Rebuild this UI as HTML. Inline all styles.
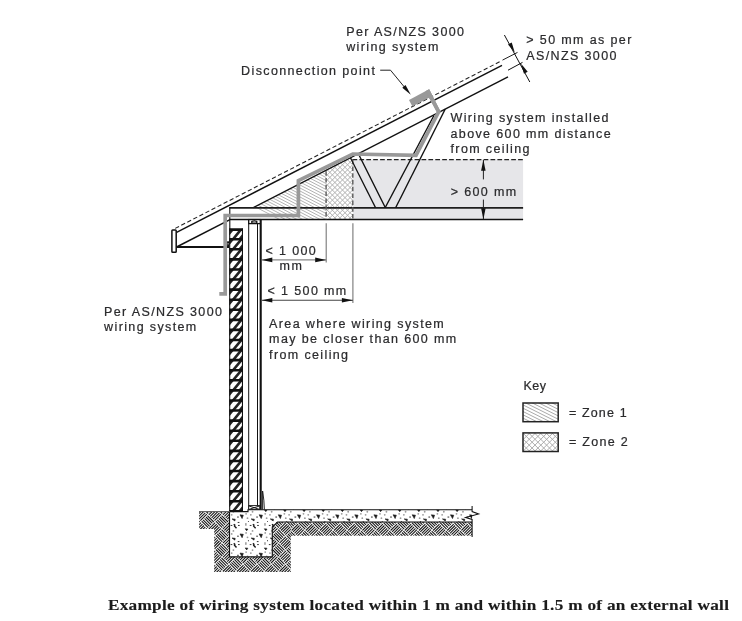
<!DOCTYPE html>
<html><head><meta charset="utf-8"><title>Wiring system near external wall</title>
<style>
html,body{margin:0;padding:0;background:#fff;}
body{width:742px;height:621px;overflow:hidden;font-family:"Liberation Sans",sans-serif;}
svg{display:block;will-change:transform;}
.t{font-family:"Liberation Sans",sans-serif;font-size:12.5px;letter-spacing:1.37px;fill:#2b2b2d;stroke:#2b2b2d;stroke-width:0.22px;white-space:pre;}
.cap{font-family:"Liberation Serif",serif;font-weight:bold;font-size:15px;fill:#1c1c1c;stroke:#1c1c1c;stroke-width:0.12px;white-space:pre;}
.k{stroke:#111;fill:none;}
</style></head><body>
<svg width="742" height="621" viewBox="0 0 742 621">
<defs>
<g id="ct"><path d="M10.3 2.0L13.6 2.4L12.4 5.8Z" fill="#1a1a1a" stroke="#1a1a1a" stroke-width="0.6"/><path d="M2.3 6.1L5.5 6.4L5.2 8.2Z" fill="#1a1a1a" stroke="#1a1a1a" stroke-width="0.6"/><path d="M15.5 16.0L18.2 16.3L17.0 18.0Z" fill="#1a1a1a" stroke="#1a1a1a" stroke-width="0.6"/><path d="M4.0 11.5L5.1 12.3L4.8 13.3L6.8 15.5" stroke="#1a1a1a" stroke-width="1.4" fill="none"/><rect x="15.4" y="10.3" width="1.5" height="2.6" fill="#999"/><rect x="7.3999999999999995" y="3.75" width="1.7" height="1.0" fill="#333"/><rect x="8.0" y="9.15" width="1.7" height="1.0" fill="#333"/><rect x="0.8999999999999999" y="12.15" width="1.7" height="1.0" fill="#333"/><rect x="8.299999999999999" y="12.15" width="1.7" height="1.0" fill="#333"/><circle cx="18.7" cy="8.7" r="0.55" fill="#333"/><circle cx="2.0" cy="2.0" r="0.9" fill="#9a9a9a"/><circle cx="16.4" cy="1.0" r="0.9" fill="#9a9a9a"/><circle cx="17.8" cy="5.4" r="0.9" fill="#9a9a9a"/><circle cx="3.7" cy="18.1" r="0.9" fill="#9a9a9a"/></g>
<clipPath id="concclip"><path d="M229.5 511.6H248V509.7H472.1V522H277.6L272.3 526.9V556.9H229.5Z"/></clipPath>
</defs>
<rect width="742" height="621" fill="#fff"/>
<rect x="352.8" y="159.5" width="170.3" height="59.8" fill="#e6e6e9"/>
<clipPath id="z1c"><polygon points="253.3,207.6 326.1,170.2 326.1,219.3 276,219.3"/></clipPath>
<clipPath id="z2c"><polygon points="326.1,170.2 352.8,156.5 352.8,219.3 326.1,219.3"/></clipPath>
<path clip-path="url(#z1c)" d="M250.0 123.11L327.0 163.00M250.0 126.11L327.0 166.00M250.0 129.11L327.0 169.00M250.0 132.11L327.0 172.00M250.0 135.11L327.0 175.00M250.0 138.11L327.0 178.00M250.0 141.11L327.0 181.00M250.0 144.11L327.0 184.00M250.0 147.11L327.0 187.00M250.0 150.11L327.0 190.00M250.0 153.11L327.0 193.00M250.0 156.11L327.0 196.00M250.0 159.11L327.0 199.00M250.0 162.11L327.0 202.00M250.0 165.11L327.0 205.00M250.0 168.11L327.0 208.00M250.0 171.11L327.0 211.00M250.0 174.11L327.0 214.00M250.0 177.11L327.0 217.00M250.0 180.11L327.0 220.00M250.0 183.11L327.0 223.00M250.0 186.11L327.0 226.00M250.0 189.11L327.0 229.00M250.0 192.11L327.0 232.00M250.0 195.11L327.0 235.00M250.0 198.11L327.0 238.00M250.0 201.11L327.0 241.00M250.0 204.11L327.0 244.00M250.0 207.11L327.0 247.00M250.0 210.11L327.0 250.00M250.0 213.11L327.0 253.00M250.0 216.11L327.0 256.00M250.0 219.11L327.0 259.00M250.0 222.11L327.0 262.00" stroke="#a9a9a9" stroke-width="0.9" fill="none"/>
<path clip-path="url(#z2c)" d="M256.95 155.0L321.95 220.0M256.95 220.0L321.95 155.0M262.00 155.0L327.00 220.0M262.00 220.0L327.00 155.0M267.05 155.0L332.05 220.0M267.05 220.0L332.05 155.0M272.10 155.0L337.10 220.0M272.10 220.0L337.10 155.0M277.15 155.0L342.15 220.0M277.15 220.0L342.15 155.0M282.20 155.0L347.20 220.0M282.20 220.0L347.20 155.0M287.25 155.0L352.25 220.0M287.25 220.0L352.25 155.0M292.30 155.0L357.30 220.0M292.30 220.0L357.30 155.0M297.35 155.0L362.35 220.0M297.35 220.0L362.35 155.0M302.40 155.0L367.40 220.0M302.40 220.0L367.40 155.0M307.45 155.0L372.45 220.0M307.45 220.0L372.45 155.0M312.50 155.0L377.50 220.0M312.50 220.0L377.50 155.0M317.55 155.0L382.55 220.0M317.55 220.0L382.55 155.0M322.60 155.0L387.60 220.0M322.60 220.0L387.60 155.0M327.65 155.0L392.65 220.0M327.65 220.0L392.65 155.0M332.70 155.0L397.70 220.0M332.70 220.0L397.70 155.0M337.75 155.0L402.75 220.0M337.75 220.0L402.75 155.0M342.80 155.0L407.80 220.0M342.80 220.0L407.80 155.0M347.85 155.0L412.85 220.0M347.85 220.0L412.85 155.0M352.90 155.0L417.90 220.0M352.90 220.0L417.90 155.0M357.95 155.0L422.95 220.0M357.95 220.0L422.95 155.0M363.00 155.0L428.00 220.0M363.00 220.0L428.00 155.0M368.05 155.0L433.05 220.0M368.05 220.0L433.05 155.0M373.10 155.0L438.10 220.0M373.10 220.0L438.10 155.0M378.15 155.0L443.15 220.0M378.15 220.0L443.15 155.0M383.20 155.0L448.20 220.0M383.20 220.0L448.20 155.0M388.25 155.0L453.25 220.0M388.25 220.0L453.25 155.0M393.30 155.0L458.30 220.0M393.30 220.0L458.30 155.0M398.35 155.0L463.35 220.0M398.35 220.0L463.35 155.0M403.40 155.0L468.40 220.0M403.40 220.0L468.40 155.0M408.45 155.0L473.45 220.0M408.45 220.0L473.45 155.0M413.50 155.0L478.50 220.0M413.50 220.0L478.50 155.0M418.55 155.0L483.55 220.0M418.55 220.0L483.55 155.0" stroke="#adadad" stroke-width="0.95" fill="none"/>
<line x1="175.2" y1="228.4" x2="500" y2="61.6" stroke="#222" stroke-width="1.05" stroke-dasharray="4.3 2.5"/>
<line x1="502.5" y1="60.1" x2="517.5" y2="52.4" stroke="#222" stroke-width="1"/>
<line x1="176.6" y1="232.4" x2="502" y2="65.3" stroke="#111" stroke-width="1.45"/>
<line x1="176.6" y1="247.0" x2="229.5" y2="219.8" stroke="#111" stroke-width="1.45"/>
<line x1="253.3" y1="207.6" x2="508" y2="76.8" stroke="#111" stroke-width="1.45"/>
<line x1="508" y1="70.2" x2="522.5" y2="62.4" stroke="#111" stroke-width="1"/>
<line x1="504.4" y1="35" x2="529.8" y2="82" stroke="#111" stroke-width="1"/>
<polygon points="514.8,52.6 508.0,44.4 511.7,42.4" fill="#111"/>
<polygon points="520.9,63.6 527.7,71.8 524.0,73.8" fill="#111"/>
<rect x="171.9" y="229.9" width="4.3" height="22.4" rx="0.8" fill="#fff" stroke="#111" stroke-width="1.5"/>
<line x1="176.6" y1="247" x2="229" y2="247" stroke="#111" stroke-width="1.8"/>
<rect x="227.1" y="241.3" width="2.6" height="6.5" fill="#111"/><circle cx="228.1" cy="243.8" r="0.65" fill="#fff"/>
<line x1="229.3" y1="207.9" x2="523.1" y2="207.9" stroke="#1e1e1e" stroke-width="1.75"/>
<line x1="229.3" y1="219.5" x2="523.1" y2="219.5" stroke="#111" stroke-width="1.5"/>
<line x1="229.8" y1="207.2" x2="229.8" y2="230" stroke="#111" stroke-width="1.1"/>
<line x1="352.5" y1="159.6" x2="523.1" y2="159.6" stroke="#222" stroke-width="1.05" stroke-dasharray="4.7 2.2"/>
<line x1="326.1" y1="171.2" x2="326.1" y2="219.3" stroke="#5a5a5a" stroke-width="1.4" stroke-dasharray="4.5 2.3"/>
<line x1="352.8" y1="159.6" x2="352.8" y2="219.3" stroke="#5a5a5a" stroke-width="1.4" stroke-dasharray="4.5 2.3"/>
<line x1="326.2" y1="223.3" x2="326.2" y2="262.5" stroke="#777" stroke-width="1.1"/>
<line x1="352.9" y1="223.3" x2="352.9" y2="303" stroke="#777" stroke-width="1.1"/>
<line x1="350.4" y1="157.8" x2="375.5" y2="207.6" stroke="#111" stroke-width="1.25"/>
<line x1="358.8" y1="154.6" x2="385.2" y2="207.4" stroke="#111" stroke-width="1.25"/>
<line x1="433.9" y1="115.6" x2="385.2" y2="207.6" stroke="#111" stroke-width="1.25"/>
<line x1="445.2" y1="109.1" x2="395.7" y2="207.6" stroke="#111" stroke-width="1.25"/>
<line x1="483.4" y1="160" x2="483.4" y2="179.4" stroke="#222" stroke-width="1"/>
<line x1="483.4" y1="199.6" x2="483.4" y2="219" stroke="#222" stroke-width="1"/>
<polygon points="483.4,159.8 485.6,170.8 481.1,170.8" fill="#111"/>
<polygon points="483.4,219.3 481.1,208.3 485.6,208.3" fill="#111"/>
<line x1="262" y1="259.9" x2="326.2" y2="259.9" stroke="#888" stroke-width="1.1"/>
<polygon points="261.8,259.9 272.3,257.6 272.3,262.2" fill="#111"/>
<polygon points="326.2,259.9 315.2,262.2 315.2,257.6" fill="#111"/>
<line x1="262" y1="300.3" x2="352.9" y2="300.3" stroke="#444" stroke-width="1.1"/>
<polygon points="261.8,300.3 272.3,298.0 272.3,302.6" fill="#111"/>
<polygon points="352.9,300.3 341.9,302.6 341.9,298.0" fill="#111"/>
<rect x="229.25" y="229.6" width="13.65" height="281.76" fill="#fff"/>
<path d="M231.35 239.20L234.75 239.20L242.68 229.60L239.28 229.60Z M229.25 229.60L234.25 229.60L229.25 235.60Z M242.90 239.20L237.90 239.20L242.90 233.20Z M231.35 249.28L234.75 249.28L243.08 239.20L239.68 239.20Z M229.25 239.20L234.25 239.20L229.25 245.20Z M242.90 249.28L237.90 249.28L242.90 243.28Z M231.35 259.36L234.75 259.36L243.08 249.28L239.68 249.28Z M229.25 249.28L234.25 249.28L229.25 255.28Z M242.90 259.36L237.90 259.36L242.90 253.36Z M231.35 269.44L234.75 269.44L243.08 259.36L239.68 259.36Z M229.25 259.36L234.25 259.36L229.25 265.36Z M242.90 269.44L237.90 269.44L242.90 263.44Z M231.35 279.52L234.75 279.52L243.08 269.44L239.68 269.44Z M229.25 269.44L234.25 269.44L229.25 275.44Z M242.90 279.52L237.90 279.52L242.90 273.52Z M231.35 289.60L234.75 289.60L243.08 279.52L239.68 279.52Z M229.25 279.52L234.25 279.52L229.25 285.52Z M242.90 289.60L237.90 289.60L242.90 283.60Z M231.35 299.68L234.75 299.68L243.08 289.60L239.68 289.60Z M229.25 289.60L234.25 289.60L229.25 295.60Z M242.90 299.68L237.90 299.68L242.90 293.68Z M231.35 309.76L234.75 309.76L243.08 299.68L239.68 299.68Z M229.25 299.68L234.25 299.68L229.25 305.68Z M242.90 309.76L237.90 309.76L242.90 303.76Z M231.35 319.84L234.75 319.84L243.08 309.76L239.68 309.76Z M229.25 309.76L234.25 309.76L229.25 315.76Z M242.90 319.84L237.90 319.84L242.90 313.84Z M231.35 329.92L234.75 329.92L243.08 319.84L239.68 319.84Z M229.25 319.84L234.25 319.84L229.25 325.84Z M242.90 329.92L237.90 329.92L242.90 323.92Z M231.35 340.00L234.75 340.00L243.08 329.92L239.68 329.92Z M229.25 329.92L234.25 329.92L229.25 335.92Z M242.90 340.00L237.90 340.00L242.90 334.00Z M231.35 350.08L234.75 350.08L243.08 340.00L239.68 340.00Z M229.25 340.00L234.25 340.00L229.25 346.00Z M242.90 350.08L237.90 350.08L242.90 344.08Z M231.35 360.16L234.75 360.16L243.08 350.08L239.68 350.08Z M229.25 350.08L234.25 350.08L229.25 356.08Z M242.90 360.16L237.90 360.16L242.90 354.16Z M231.35 370.24L234.75 370.24L243.08 360.16L239.68 360.16Z M229.25 360.16L234.25 360.16L229.25 366.16Z M242.90 370.24L237.90 370.24L242.90 364.24Z M231.35 380.32L234.75 380.32L243.08 370.24L239.68 370.24Z M229.25 370.24L234.25 370.24L229.25 376.24Z M242.90 380.32L237.90 380.32L242.90 374.32Z M231.35 390.40L234.75 390.40L243.08 380.32L239.68 380.32Z M229.25 380.32L234.25 380.32L229.25 386.32Z M242.90 390.40L237.90 390.40L242.90 384.40Z M231.35 400.48L234.75 400.48L243.08 390.40L239.68 390.40Z M229.25 390.40L234.25 390.40L229.25 396.40Z M242.90 400.48L237.90 400.48L242.90 394.48Z M231.35 410.56L234.75 410.56L243.08 400.48L239.68 400.48Z M229.25 400.48L234.25 400.48L229.25 406.48Z M242.90 410.56L237.90 410.56L242.90 404.56Z M231.35 420.64L234.75 420.64L243.08 410.56L239.68 410.56Z M229.25 410.56L234.25 410.56L229.25 416.56Z M242.90 420.64L237.90 420.64L242.90 414.64Z M231.35 430.72L234.75 430.72L243.08 420.64L239.68 420.64Z M229.25 420.64L234.25 420.64L229.25 426.64Z M242.90 430.72L237.90 430.72L242.90 424.72Z M231.35 440.80L234.75 440.80L243.08 430.72L239.68 430.72Z M229.25 430.72L234.25 430.72L229.25 436.72Z M242.90 440.80L237.90 440.80L242.90 434.80Z M231.35 450.88L234.75 450.88L243.08 440.80L239.68 440.80Z M229.25 440.80L234.25 440.80L229.25 446.80Z M242.90 450.88L237.90 450.88L242.90 444.88Z M231.35 460.96L234.75 460.96L243.08 450.88L239.68 450.88Z M229.25 450.88L234.25 450.88L229.25 456.88Z M242.90 460.96L237.90 460.96L242.90 454.96Z M231.35 471.04L234.75 471.04L243.08 460.96L239.68 460.96Z M229.25 460.96L234.25 460.96L229.25 466.96Z M242.90 471.04L237.90 471.04L242.90 465.04Z M231.35 481.12L234.75 481.12L243.08 471.04L239.68 471.04Z M229.25 471.04L234.25 471.04L229.25 477.04Z M242.90 481.12L237.90 481.12L242.90 475.12Z M231.35 491.20L234.75 491.20L243.08 481.12L239.68 481.12Z M229.25 481.12L234.25 481.12L229.25 487.12Z M242.90 491.20L237.90 491.20L242.90 485.20Z M231.35 501.28L234.75 501.28L243.08 491.20L239.68 491.20Z M229.25 491.20L234.25 491.20L229.25 497.20Z M242.90 501.28L237.90 501.28L242.90 495.28Z M231.35 511.36L234.75 511.36L243.08 501.28L239.68 501.28Z M229.25 501.28L234.25 501.28L229.25 507.28Z M242.90 511.36L237.90 511.36L242.90 505.36Z " fill="#222"/>
<path d="M229.25 229.60H242.9 M229.25 239.20H242.9 M229.25 249.28H242.9 M229.25 259.36H242.9 M229.25 269.44H242.9 M229.25 279.52H242.9 M229.25 289.60H242.9 M229.25 299.68H242.9 M229.25 309.76H242.9 M229.25 319.84H242.9 M229.25 329.92H242.9 M229.25 340.00H242.9 M229.25 350.08H242.9 M229.25 360.16H242.9 M229.25 370.24H242.9 M229.25 380.32H242.9 M229.25 390.40H242.9 M229.25 400.48H242.9 M229.25 410.56H242.9 M229.25 420.64H242.9 M229.25 430.72H242.9 M229.25 440.80H242.9 M229.25 450.88H242.9 M229.25 460.96H242.9 M229.25 471.04H242.9 M229.25 481.12H242.9 M229.25 491.20H242.9 M229.25 501.28H242.9 M229.25 511.36H242.9 " stroke="#111" stroke-width="2.6"/>
<path d="M229.7 228.6V512.36 M242.45000000000002 228.6V512.36" stroke="#111" stroke-width="1.1"/>
<path d="M248.7 219.3V509.7 M257.5 223V506" stroke="#111" stroke-width="1"/>
<line x1="260.7" y1="219.3" x2="260.7" y2="509.7" stroke="#111" stroke-width="2.1"/>
<rect x="248.7" y="219.6" width="11.6" height="4" fill="#fff" stroke="#111" stroke-width="1.3"/><ellipse cx="254.3" cy="221.9" rx="2.7" ry="1.1" fill="#fff" stroke="#111" stroke-width="1.2"/>
<rect x="248.7" y="505.6" width="11" height="4" fill="#fff" stroke="#111" stroke-width="0.9"/><path d="M249 506L259.5 509.4M249 509.4L259.5 506" stroke="#111" stroke-width="0.95"/>
<path d="M262.6 491V509.7M262.6 491Q264.2 500 264.4 509.7" stroke="#111" stroke-width="0.9" fill="none"/>
<clipPath id="soilA"><path d="M199.1 511.9H229.5V556.9H272.3V526.9L277.6 522H290.8V572H214.2V528.9H199.1Z"/></clipPath>
<clipPath id="soilB"><path d="M290.8 522H472.1V535.7H290.8Z"/></clipPath>
<path clip-path="url(#soilA)" d="M187.6 507.1L194.0 513.5M189.0 505.7L195.4 512.1M190.4 504.3L196.9 510.7M191.8 502.9L198.3 509.3M193.2 501.4L199.7 507.9M194.7 514.9L201.1 508.5M196.1 516.4L202.5 509.9M197.5 517.8L203.9 511.3M198.9 519.2L205.3 512.8M200.3 520.6L206.8 514.2M187.6 521.2L194.0 527.7M189.0 519.8L195.4 526.3M190.4 518.4L196.9 524.8M191.8 517.0L198.3 523.4M193.2 515.6L199.7 522.0M194.7 529.1L201.1 522.7M196.1 530.5L202.5 524.1M197.5 531.9L203.9 525.5M198.9 533.3L205.3 526.9M200.3 534.7L206.8 528.3M187.6 535.4L194.0 541.8M189.0 534.0L195.4 540.4M190.4 532.6L196.9 539.0M191.8 531.1L198.3 537.6M193.2 529.7L199.7 536.2M201.7 507.1L208.2 513.5M203.1 505.7L209.6 512.1M204.6 504.3L211.0 510.7M206.0 502.9L212.4 509.3M207.4 501.4L213.8 507.9M208.8 514.9L215.2 508.5M210.2 516.4L216.7 509.9M211.6 517.8L218.1 511.3M213.0 519.2L219.5 512.8M214.5 520.6L220.9 514.2M201.7 521.2L208.2 527.7M203.1 519.8L209.6 526.3M204.6 518.4L211.0 524.8M206.0 517.0L212.4 523.4M207.4 515.6L213.8 522.0M208.8 529.1L215.2 522.7M210.2 530.5L216.7 524.1M211.6 531.9L218.1 525.5M213.0 533.3L219.5 526.9M214.5 534.7L220.9 528.3M201.7 535.4L208.2 541.8M203.1 534.0L209.6 540.4M204.6 532.6L211.0 539.0M206.0 531.1L212.4 537.6M207.4 529.7L213.8 536.2M208.8 543.2L215.2 536.8M210.2 544.6L216.7 538.2M211.6 546.1L218.1 539.6M213.0 547.5L219.5 541.0M214.5 548.9L220.9 542.5M201.7 549.5L208.2 556.0M203.1 548.1L209.6 554.5M204.6 546.7L211.0 553.1M206.0 545.3L212.4 551.7M207.4 543.9L213.8 550.3M208.8 557.4L215.2 550.9M210.2 558.8L216.7 552.4M211.6 560.2L218.1 553.8M213.0 561.6L219.5 555.2M214.5 563.0L220.9 556.6M201.7 563.7L208.2 570.1M203.1 562.3L209.6 568.7M204.6 560.8L211.0 567.3M206.0 559.4L212.4 565.9M207.4 558.0L213.8 564.4M208.8 571.5L215.2 565.1M210.2 572.9L216.7 566.5M211.6 574.3L218.1 567.9M213.0 575.8L219.5 569.3M214.5 577.2L220.9 570.7M201.7 577.8L208.2 584.2M203.1 576.4L209.6 582.8M204.6 575.0L211.0 581.4M206.0 573.6L212.4 580.0M207.4 572.2L213.8 578.6M215.9 507.1L222.3 513.5M217.3 505.7L223.7 512.1M218.7 504.3L225.1 510.7M220.1 502.9L226.5 509.3M221.5 501.4L228.0 507.9M222.9 514.9L229.4 508.5M224.4 516.4L230.8 509.9M225.8 517.8L232.2 511.3M227.2 519.2L233.6 512.8M228.6 520.6L235.0 514.2M215.9 521.2L222.3 527.7M217.3 519.8L223.7 526.3M218.7 518.4L225.1 524.8M220.1 517.0L226.5 523.4M221.5 515.6L228.0 522.0M222.9 529.1L229.4 522.7M224.4 530.5L230.8 524.1M225.8 531.9L232.2 525.5M227.2 533.3L233.6 526.9M228.6 534.7L235.0 528.3M215.9 535.4L222.3 541.8M217.3 534.0L223.7 540.4M218.7 532.6L225.1 539.0M220.1 531.1L226.5 537.6M221.5 529.7L228.0 536.2M222.9 543.2L229.4 536.8M224.4 544.6L230.8 538.2M225.8 546.1L232.2 539.6M227.2 547.5L233.6 541.0M228.6 548.9L235.0 542.5M215.9 549.5L222.3 556.0M217.3 548.1L223.7 554.5M218.7 546.7L225.1 553.1M220.1 545.3L226.5 551.7M221.5 543.9L228.0 550.3M222.9 557.4L229.4 550.9M224.4 558.8L230.8 552.4M225.8 560.2L232.2 553.8M227.2 561.6L233.6 555.2M228.6 563.0L235.0 556.6M215.9 563.7L222.3 570.1M217.3 562.3L223.7 568.7M218.7 560.8L225.1 567.3M220.1 559.4L226.5 565.9M221.5 558.0L228.0 564.4M222.9 571.5L229.4 565.1M224.4 572.9L230.8 566.5M225.8 574.3L232.2 567.9M227.2 575.8L233.6 569.3M228.6 577.2L235.0 570.7M215.9 577.8L222.3 584.2M217.3 576.4L223.7 582.8M218.7 575.0L225.1 581.4M220.1 573.6L226.5 580.0M221.5 572.2L228.0 578.6M230.0 507.1L236.4 513.5M231.4 505.7L237.9 512.1M232.8 504.3L239.3 510.7M234.3 502.9L240.7 509.3M235.7 501.4L242.1 507.9M230.0 521.2L236.4 527.7M231.4 519.8L237.9 526.3M232.8 518.4L239.3 524.8M234.3 517.0L240.7 523.4M235.7 515.6L242.1 522.0M230.0 535.4L236.4 541.8M231.4 534.0L237.9 540.4M232.8 532.6L239.3 539.0M234.3 531.1L240.7 537.6M235.7 529.7L242.1 536.2M230.0 549.5L236.4 556.0M231.4 548.1L237.9 554.5M232.8 546.7L239.3 553.1M234.3 545.3L240.7 551.7M235.7 543.9L242.1 550.3M237.1 557.4L243.5 550.9M238.5 558.8L244.9 552.4M239.9 560.2L246.3 553.8M241.3 561.6L247.8 555.2M242.7 563.0L249.2 556.6M230.0 563.7L236.4 570.1M231.4 562.3L237.9 568.7M232.8 560.8L239.3 567.3M234.3 559.4L240.7 565.9M235.7 558.0L242.1 564.4M237.1 571.5L243.5 565.1M238.5 572.9L244.9 566.5M239.9 574.3L246.3 567.9M241.3 575.8L247.8 569.3M242.7 577.2L249.2 570.7M230.0 577.8L236.4 584.2M231.4 576.4L237.9 582.8M232.8 575.0L239.3 581.4M234.3 573.6L240.7 580.0M235.7 572.2L242.1 578.6M244.2 549.5L250.6 556.0M245.6 548.1L252.0 554.5M247.0 546.7L253.4 553.1M248.4 545.3L254.8 551.7M249.8 543.9L256.2 550.3M251.2 557.4L257.7 550.9M252.6 558.8L259.1 552.4M254.1 560.2L260.5 553.8M255.5 561.6L261.9 555.2M256.9 563.0L263.3 556.6M244.2 563.7L250.6 570.1M245.6 562.3L252.0 568.7M247.0 560.8L253.4 567.3M248.4 559.4L254.8 565.9M249.8 558.0L256.2 564.4M251.2 571.5L257.7 565.1M252.6 572.9L259.1 566.5M254.1 574.3L260.5 567.9M255.5 575.8L261.9 569.3M256.9 577.2L263.3 570.7M244.2 577.8L250.6 584.2M245.6 576.4L252.0 582.8M247.0 575.0L253.4 581.4M248.4 573.6L254.8 580.0M249.8 572.2L256.2 578.6M265.4 529.1L271.8 522.7M266.8 530.5L273.2 524.1M268.2 531.9L274.6 525.5M269.6 533.3L276.0 526.9M271.0 534.7L277.5 528.3M265.4 543.2L271.8 536.8M266.8 544.6L273.2 538.2M268.2 546.1L274.6 539.6M269.6 547.5L276.0 541.0M271.0 548.9L277.5 542.5M258.3 549.5L264.7 556.0M259.7 548.1L266.1 554.5M261.1 546.7L267.6 553.1M262.5 545.3L269.0 551.7M264.0 543.9L270.4 550.3M265.4 557.4L271.8 550.9M266.8 558.8L273.2 552.4M268.2 560.2L274.6 553.8M269.6 561.6L276.0 555.2M271.0 563.0L277.5 556.6M258.3 563.7L264.7 570.1M259.7 562.3L266.1 568.7M261.1 560.8L267.6 567.3M262.5 559.4L269.0 565.9M264.0 558.0L270.4 564.4M265.4 571.5L271.8 565.1M266.8 572.9L273.2 566.5M268.2 574.3L274.6 567.9M269.6 575.8L276.0 569.3M271.0 577.2L277.5 570.7M258.3 577.8L264.7 584.2M259.7 576.4L266.1 582.8M261.1 575.0L267.6 581.4M262.5 573.6L269.0 580.0M264.0 572.2L270.4 578.6M272.4 521.2L278.9 527.7M273.9 519.8L280.3 526.3M275.3 518.4L281.7 524.8M276.7 517.0L283.1 523.4M278.1 515.6L284.5 522.0M279.5 529.1L285.9 522.7M280.9 530.5L287.4 524.1M282.3 531.9L288.8 525.5M283.8 533.3L290.2 526.9M285.2 534.7L291.6 528.3M272.4 535.4L278.9 541.8M273.9 534.0L280.3 540.4M275.3 532.6L281.7 539.0M276.7 531.1L283.1 537.6M278.1 529.7L284.5 536.2M279.5 543.2L285.9 536.8M280.9 544.6L287.4 538.2M282.3 546.1L288.8 539.6M283.8 547.5L290.2 541.0M285.2 548.9L291.6 542.5M272.4 549.5L278.9 556.0M273.9 548.1L280.3 554.5M275.3 546.7L281.7 553.1M276.7 545.3L283.1 551.7M278.1 543.9L284.5 550.3M279.5 557.4L285.9 550.9M280.9 558.8L287.4 552.4M282.3 560.2L288.8 553.8M283.8 561.6L290.2 555.2M285.2 563.0L291.6 556.6M272.4 563.7L278.9 570.1M273.9 562.3L280.3 568.7M275.3 560.8L281.7 567.3M276.7 559.4L283.1 565.9M278.1 558.0L284.5 564.4M279.5 571.5L285.9 565.1M280.9 572.9L287.4 566.5M282.3 574.3L288.8 567.9M283.8 575.8L290.2 569.3M285.2 577.2L291.6 570.7M272.4 577.8L278.9 584.2M273.9 576.4L280.3 582.8M275.3 575.0L281.7 581.4M276.7 573.6L283.1 580.0M278.1 572.2L284.5 578.6M286.6 521.2L293.0 527.7M288.0 519.8L294.4 526.3M289.4 518.4L295.8 524.8M290.8 517.0L297.3 523.4M292.2 515.6L298.7 522.0M286.6 535.4L293.0 541.8M288.0 534.0L294.4 540.4M289.4 532.6L295.8 539.0M290.8 531.1L297.3 537.6M292.2 529.7L298.7 536.2M286.6 549.5L293.0 556.0M288.0 548.1L294.4 554.5M289.4 546.7L295.8 553.1M290.8 545.3L297.3 551.7M292.2 543.9L298.7 550.3M286.6 563.7L293.0 570.1M288.0 562.3L294.4 568.7M289.4 560.8L295.8 567.3M290.8 559.4L297.3 565.9M292.2 558.0L298.7 564.4M286.6 577.8L293.0 584.2M288.0 576.4L294.4 582.8M289.4 575.0L295.8 581.4M290.8 573.6L297.3 580.0M292.2 572.2L298.7 578.6" stroke="#161616" stroke-width="1.08" fill="none"/>
<path clip-path="url(#soilB)" d="M291.7 516.3L298.1 509.9M293.1 517.8L299.5 511.3M294.5 519.2L300.9 512.7M295.9 520.6L302.3 514.2M297.3 522.0L303.7 515.6M284.6 522.6L291.0 529.1M286.0 521.2L292.4 527.7M287.4 519.8L293.8 526.2M288.8 518.4L295.3 524.8M290.2 517.0L296.7 523.4M291.7 530.5L298.1 524.1M293.1 531.9L299.5 525.5M294.5 533.3L300.9 526.9M295.9 534.7L302.3 528.3M297.3 536.1L303.7 529.7M284.6 536.8L291.0 543.2M286.0 535.4L292.4 541.8M287.4 534.0L293.8 540.4M288.8 532.5L295.3 539.0M290.2 531.1L296.7 537.6M305.8 516.3L312.2 509.9M307.2 517.8L313.6 511.3M308.6 519.2L315.1 512.7M310.0 520.6L316.5 514.2M311.5 522.0L317.9 515.6M298.7 522.6L305.2 529.1M300.1 521.2L306.6 527.7M301.6 519.8L308.0 526.2M303.0 518.4L309.4 524.8M304.4 517.0L310.8 523.4M305.8 530.5L312.2 524.1M307.2 531.9L313.6 525.5M308.6 533.3L315.1 526.9M310.0 534.7L316.5 528.3M311.5 536.1L317.9 529.7M298.7 536.8L305.2 543.2M300.1 535.4L306.6 541.8M301.6 534.0L308.0 540.4M303.0 532.5L309.4 539.0M304.4 531.1L310.8 537.6M319.9 516.3L326.4 509.9M321.4 517.8L327.8 511.3M322.8 519.2L329.2 512.7M324.2 520.6L330.6 514.2M325.6 522.0L332.0 515.6M312.9 522.6L319.3 529.1M314.3 521.2L320.7 527.7M315.7 519.8L322.1 526.2M317.1 518.4L323.5 524.8M318.5 517.0L325.0 523.4M319.9 530.5L326.4 524.1M321.4 531.9L327.8 525.5M322.8 533.3L329.2 526.9M324.2 534.7L330.6 528.3M325.6 536.1L332.0 529.7M312.9 536.8L319.3 543.2M314.3 535.4L320.7 541.8M315.7 534.0L322.1 540.4M317.1 532.5L323.5 539.0M318.5 531.1L325.0 537.6M334.1 516.3L340.5 509.9M335.5 517.8L341.9 511.3M336.9 519.2L343.3 512.7M338.3 520.6L344.8 514.2M339.7 522.0L346.2 515.6M327.0 522.6L333.4 529.1M328.4 521.2L334.9 527.7M329.8 519.8L336.3 526.2M331.3 518.4L337.7 524.8M332.7 517.0L339.1 523.4M334.1 530.5L340.5 524.1M335.5 531.9L341.9 525.5M336.9 533.3L343.3 526.9M338.3 534.7L344.8 528.3M339.7 536.1L346.2 529.7M327.0 536.8L333.4 543.2M328.4 535.4L334.9 541.8M329.8 534.0L336.3 540.4M331.3 532.5L337.7 539.0M332.7 531.1L339.1 537.6M348.2 516.3L354.7 509.9M349.6 517.8L356.1 511.3M351.1 519.2L357.5 512.7M352.5 520.6L358.9 514.2M353.9 522.0L360.3 515.6M341.2 522.6L347.6 529.1M342.6 521.2L349.0 527.7M344.0 519.8L350.4 526.2M345.4 518.4L351.8 524.8M346.8 517.0L353.2 523.4M348.2 530.5L354.7 524.1M349.6 531.9L356.1 525.5M351.1 533.3L357.5 526.9M352.5 534.7L358.9 528.3M353.9 536.1L360.3 529.7M341.2 536.8L347.6 543.2M342.6 535.4L349.0 541.8M344.0 534.0L350.4 540.4M345.4 532.5L351.8 539.0M346.8 531.1L353.2 537.6M362.4 516.3L368.8 509.9M363.8 517.8L370.2 511.3M365.2 519.2L371.6 512.7M366.6 520.6L373.0 514.2M368.0 522.0L374.5 515.6M355.3 522.6L361.7 529.1M356.7 521.2L363.1 527.7M358.1 519.8L364.6 526.2M359.5 518.4L366.0 524.8M361.0 517.0L367.4 523.4M362.4 530.5L368.8 524.1M363.8 531.9L370.2 525.5M365.2 533.3L371.6 526.9M366.6 534.7L373.0 528.3M368.0 536.1L374.5 529.7M355.3 536.8L361.7 543.2M356.7 535.4L363.1 541.8M358.1 534.0L364.6 540.4M359.5 532.5L366.0 539.0M361.0 531.1L367.4 537.6M376.5 516.3L382.9 509.9M377.9 517.8L384.4 511.3M379.3 519.2L385.8 512.7M380.7 520.6L387.2 514.2M382.2 522.0L388.6 515.6M369.4 522.6L375.9 529.1M370.9 521.2L377.3 527.7M372.3 519.8L378.7 526.2M373.7 518.4L380.1 524.8M375.1 517.0L381.5 523.4M376.5 530.5L382.9 524.1M377.9 531.9L384.4 525.5M379.3 533.3L385.8 526.9M380.7 534.7L387.2 528.3M382.2 536.1L388.6 529.7M369.4 536.8L375.9 543.2M370.9 535.4L377.3 541.8M372.3 534.0L378.7 540.4M373.7 532.5L380.1 539.0M375.1 531.1L381.5 537.6M390.6 516.3L397.1 509.9M392.1 517.8L398.5 511.3M393.5 519.2L399.9 512.7M394.9 520.6L401.3 514.2M396.3 522.0L402.7 515.6M383.6 522.6L390.0 529.1M385.0 521.2L391.4 527.7M386.4 519.8L392.8 526.2M387.8 518.4L394.3 524.8M389.2 517.0L395.7 523.4M390.6 530.5L397.1 524.1M392.1 531.9L398.5 525.5M393.5 533.3L399.9 526.9M394.9 534.7L401.3 528.3M396.3 536.1L402.7 529.7M383.6 536.8L390.0 543.2M385.0 535.4L391.4 541.8M386.4 534.0L392.8 540.4M387.8 532.5L394.3 539.0M389.2 531.1L395.7 537.6M404.8 516.3L411.2 509.9M406.2 517.8L412.6 511.3M407.6 519.2L414.1 512.7M409.0 520.6L415.5 514.2M410.4 522.0L416.9 515.6M397.7 522.6L404.2 529.1M399.1 521.2L405.6 527.7M400.5 519.8L407.0 526.2M402.0 518.4L408.4 524.8M403.4 517.0L409.8 523.4M404.8 530.5L411.2 524.1M406.2 531.9L412.6 525.5M407.6 533.3L414.1 526.9M409.0 534.7L415.5 528.3M410.4 536.1L416.9 529.7M397.7 536.8L404.2 543.2M399.1 535.4L405.6 541.8M400.5 534.0L407.0 540.4M402.0 532.5L408.4 539.0M403.4 531.1L409.8 537.6M418.9 516.3L425.4 509.9M420.3 517.8L426.8 511.3M421.8 519.2L428.2 512.7M423.2 520.6L429.6 514.2M424.6 522.0L431.0 515.6M411.9 522.6L418.3 529.1M413.3 521.2L419.7 527.7M414.7 519.8L421.1 526.2M416.1 518.4L422.5 524.8M417.5 517.0L424.0 523.4M418.9 530.5L425.4 524.1M420.3 531.9L426.8 525.5M421.8 533.3L428.2 526.9M423.2 534.7L429.6 528.3M424.6 536.1L431.0 529.7M411.9 536.8L418.3 543.2M413.3 535.4L419.7 541.8M414.7 534.0L421.1 540.4M416.1 532.5L422.5 539.0M417.5 531.1L424.0 537.6M433.1 516.3L439.5 509.9M434.5 517.8L440.9 511.3M435.9 519.2L442.3 512.7M437.3 520.6L443.8 514.2M438.7 522.0L445.2 515.6M426.0 522.6L432.4 529.1M427.4 521.2L433.9 527.7M428.8 519.8L435.3 526.2M430.2 518.4L436.7 524.8M431.7 517.0L438.1 523.4M433.1 530.5L439.5 524.1M434.5 531.9L440.9 525.5M435.9 533.3L442.3 526.9M437.3 534.7L443.8 528.3M438.7 536.1L445.2 529.7M426.0 536.8L432.4 543.2M427.4 535.4L433.9 541.8M428.8 534.0L435.3 540.4M430.2 532.5L436.7 539.0M431.7 531.1L438.1 537.6M447.2 516.3L453.7 509.9M448.6 517.8L455.1 511.3M450.0 519.2L456.5 512.7M451.5 520.6L457.9 514.2M452.9 522.0L459.3 515.6M440.1 522.6L446.6 529.1M441.6 521.2L448.0 527.7M443.0 519.8L449.4 526.2M444.4 518.4L450.8 524.8M445.8 517.0L452.2 523.4M447.2 530.5L453.7 524.1M448.6 531.9L455.1 525.5M450.0 533.3L456.5 526.9M451.5 534.7L457.9 528.3M452.9 536.1L459.3 529.7M440.1 536.8L446.6 543.2M441.6 535.4L448.0 541.8M443.0 534.0L449.4 540.4M444.4 532.5L450.8 539.0M445.8 531.1L452.2 537.6M461.4 516.3L467.8 509.9M462.8 517.8L469.2 511.3M464.2 519.2L470.6 512.7M465.6 520.6L472.0 514.2M467.0 522.0L473.5 515.6M454.3 522.6L460.7 529.1M455.7 521.2L462.1 527.7M457.1 519.8L463.6 526.2M458.5 518.4L465.0 524.8M459.9 517.0L466.4 523.4M461.4 530.5L467.8 524.1M462.8 531.9L469.2 525.5M464.2 533.3L470.6 526.9M465.6 534.7L472.0 528.3M467.0 536.1L473.5 529.7M454.3 536.8L460.7 543.2M455.7 535.4L462.1 541.8M457.1 534.0L463.6 540.4M458.5 532.5L465.0 539.0M459.9 531.1L466.4 537.6M468.4 522.6L474.9 529.1M469.8 521.2L476.3 527.7M471.3 519.8L477.7 526.2M472.7 518.4L479.1 524.8M474.1 517.0L480.5 523.4M468.4 536.8L474.9 543.2M469.8 535.4L476.3 541.8M471.3 534.0L477.7 540.4M472.7 532.5L479.1 539.0M474.1 531.1L480.5 537.6" stroke="#161616" stroke-width="1.08" fill="none"/>
<path d="M229.5 511.6H248V509.7H472.1V522H277.6L272.3 526.9V556.9H229.5Z" fill="#fff"/>
<g clip-path="url(#concclip)"><use href="#ct" x="229.70" y="493.67"/><use href="#ct" x="229.70" y="512.80"/><use href="#ct" x="229.70" y="531.93"/><use href="#ct" x="229.70" y="551.06"/><use href="#ct" x="248.83" y="493.67"/><use href="#ct" x="248.83" y="512.80"/><use href="#ct" x="248.83" y="531.93"/><use href="#ct" x="248.83" y="551.06"/><use href="#ct" x="267.96" y="493.67"/><use href="#ct" x="267.96" y="512.80"/><use href="#ct" x="267.96" y="531.93"/><use href="#ct" x="267.96" y="551.06"/><use href="#ct" x="287.09" y="493.67"/><use href="#ct" x="287.09" y="512.80"/><use href="#ct" x="306.22" y="493.67"/><use href="#ct" x="306.22" y="512.80"/><use href="#ct" x="325.35" y="493.67"/><use href="#ct" x="325.35" y="512.80"/><use href="#ct" x="344.48" y="493.67"/><use href="#ct" x="344.48" y="512.80"/><use href="#ct" x="363.61" y="493.67"/><use href="#ct" x="363.61" y="512.80"/><use href="#ct" x="382.74" y="493.67"/><use href="#ct" x="382.74" y="512.80"/><use href="#ct" x="401.87" y="493.67"/><use href="#ct" x="401.87" y="512.80"/><use href="#ct" x="421.00" y="493.67"/><use href="#ct" x="421.00" y="512.80"/><use href="#ct" x="440.13" y="493.67"/><use href="#ct" x="440.13" y="512.80"/><use href="#ct" x="459.26" y="493.67"/><use href="#ct" x="459.26" y="512.80"/></g>
<path d="M472.1 509.7H248V511.6H229.5V556.9H272.3V526.9L277.6 522H472.1" fill="none" stroke="#111" stroke-width="1.15"/>
<line x1="199" y1="511.6" x2="230" y2="511.6" stroke="#555" stroke-width="1"/>
<path d="M472.6 510.3H479V514H472.6Z" fill="#fff"/>
<path d="M472.1 506V511.6L478.6 514L465.6 517.5L472.1 519.4V537" stroke="#111" stroke-width="1.05" fill="none" stroke-linejoin="miter"/>
<polygon points="409,99.9 429.1,89.3 432.5,95.9 412.4,106.5" fill="#999"/><polygon points="429.1,89.3 440.2,110.9 437.6,113.6 425.4,91.2" fill="#999"/>
<path d="M427.6 90.3L438.7 111.8L416 155.3L352.8 154L298.4 180.6V215.5H225.2V293.8H219.3" stroke="#999" stroke-width="3.7" fill="none" stroke-linejoin="miter"/>
<path d="M380.2 70.2H390.5L406 89" stroke="#222" stroke-width="1" fill="none"/>
<polygon points="410.8,94.7 402.3,87.7 405.5,85.0" fill="#111"/>
<clipPath id="k1c"><rect x="523" y="403" width="35.2" height="18.7"/></clipPath><clipPath id="k2c"><rect x="523" y="432.9" width="35.2" height="18.6"/></clipPath>
<path clip-path="url(#k1c)" d="M522.0 378.00L560.0 397.00M522.0 381.30L560.0 400.30M522.0 384.60L560.0 403.60M522.0 387.90L560.0 406.90M522.0 391.20L560.0 410.20M522.0 394.50L560.0 413.50M522.0 397.80L560.0 416.80M522.0 401.10L560.0 420.10M522.0 404.40L560.0 423.40M522.0 407.70L560.0 426.70M522.0 411.00L560.0 430.00M522.0 414.30L560.0 433.30M522.0 417.60L560.0 436.60M522.0 420.90L560.0 439.90M522.0 424.20L560.0 443.20" stroke="#a4a4a4" stroke-width="0.95" fill="none"/>
<rect x="523" y="403" width="35.2" height="18.7" fill="none" stroke="#222" stroke-width="1.5"/>
<path clip-path="url(#k2c)" d="M499.60 432.9L518.20 451.5M499.60 451.5L518.20 432.9M505.40 432.9L524.00 451.5M505.40 451.5L524.00 432.9M511.20 432.9L529.80 451.5M511.20 451.5L529.80 432.9M517.00 432.9L535.60 451.5M517.00 451.5L535.60 432.9M522.80 432.9L541.40 451.5M522.80 451.5L541.40 432.9M528.60 432.9L547.20 451.5M528.60 451.5L547.20 432.9M534.40 432.9L553.00 451.5M534.40 451.5L553.00 432.9M540.20 432.9L558.80 451.5M540.20 451.5L558.80 432.9M546.00 432.9L564.60 451.5M546.00 451.5L564.60 432.9M551.80 432.9L570.40 451.5M551.80 451.5L570.40 432.9M557.60 432.9L576.20 451.5M557.60 451.5L576.20 432.9M563.40 432.9L582.00 451.5M563.40 451.5L582.00 432.9M569.20 432.9L587.80 451.5M569.20 451.5L587.80 432.9M575.00 432.9L593.60 451.5M575.00 451.5L593.60 432.9M580.80 432.9L599.40 451.5M580.80 451.5L599.40 432.9" stroke="#a8a8a8" stroke-width="0.95" fill="none"/>
<rect x="523" y="432.9" width="35.2" height="18.6" fill="none" stroke="#222" stroke-width="1.5"/>
<text class="t" x="346.2" y="35.9" >Per AS/NZS 3000</text>
<text class="t" x="346.2" y="51" >wiring system</text>
<text class="t" x="241.1" y="75" >Disconnection point</text>
<text class="t" x="526.3" y="44.2" >&gt; 50 mm as per</text>
<text class="t" x="526.3" y="59.5" >AS/NZS 3000</text>
<text class="t" x="450.5" y="121.8" >Wiring system installed</text>
<text class="t" x="450.5" y="137.6" >above 600 mm distance</text>
<text class="t" x="450.5" y="152.7" >from ceiling</text>
<text class="t" x="450.7" y="195.5" >&gt; 600 mm</text>
<text class="t" x="265.5" y="254.9" >&lt; 1 000</text>
<text class="t" x="279.6" y="269.5" >mm</text>
<text class="t" x="267.6" y="294.9" >&lt; 1 500 mm</text>
<text class="t" x="269.1" y="327.5" >Area where wiring system</text>
<text class="t" x="269.1" y="342.5" >may be closer than 600 mm</text>
<text class="t" x="269.1" y="358.6" >from ceiling</text>
<text class="t" x="104.1" y="315.8" >Per AS/NZS 3000</text>
<text class="t" x="104.1" y="330.8" >wiring system</text>
<text class="t" x="523.6" y="390.4" style="letter-spacing:0.4px">Key</text>
<text class="t" x="568.9" y="416.6" style="letter-spacing:1.15px">= Zone 1</text>
<text class="t" x="568.9" y="445.5" style="letter-spacing:1.3px">= Zone 2</text>
<text class="cap" transform="translate(107.9 609.5) scale(1.15 1)" x="0" y="0" textLength="540.1" lengthAdjust="spacing">Example of wiring system located within 1 m and within 1.5 m of an external wall</text>
</svg>
</body></html>
